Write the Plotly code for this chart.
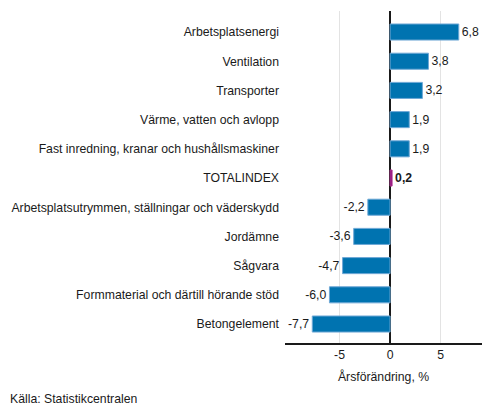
import plotly.graph_objects as go

categories = ["Arbetsplatsenergi", "Ventilation", "Transporter", "Värme, vatten och avlopp",
              "Fast inredning, kranar och hushållsmaskiner", "TOTALINDEX",
              "Arbetsplatsutrymmen, ställningar och väderskydd", "Jordämne", "Sågvara",
              "Formmaterial och därtill hörande stöd", "Betongelement"]
values = [6.8, 3.8, 3.2, 1.9, 1.9, 0.2, -2.2, -3.6, -4.7, -6.0, -7.7]
labels = ["6,8", "3,8", "3,2", "1,9", "1,9", "<b>0,2</b>", "-2,2", "-3,6", "-4,7", "-6,0", "-7,7"]
tick_vals = [-5, 0, 5]
tick_text = ["-5", "0", "5"]

blue = "#0073b0"
purple = "#8c0b7f"
colors = [purple if c == "TOTALINDEX" else blue for c in categories]
line_colors = ["#b0358f" if c == "TOTALINDEX" else "#6fa8d6" for c in categories]

FONT = "Arial, Liberation Sans, sans-serif"
FS = 12.25

fig = go.Figure(go.Bar(
    x=values, y=categories, orientation="h",
    marker=dict(color=colors, line=dict(color=line_colors, width=1)),
    width=0.55,
    text=labels, textposition="outside", cliponaxis=False,
    textfont=dict(size=FS, color="#1a1a1a", family=FONT),
))

fig.update_layout(
    width=493, height=416,
    margin=dict(l=285, r=11, t=11, b=73),
    plot_bgcolor="white", paper_bgcolor="white",
    font=dict(family=FONT, size=FS, color="#1a1a1a"),
    showlegend=False,
    xaxis=dict(range=[-10.4, 9.1], tickvals=tick_vals, ticktext=tick_text,
               showgrid=True, gridcolor="#e3e3e3", gridwidth=1,
               zeroline=True, zerolinecolor="#1a1a1a", zerolinewidth=1.5,
               showline=True, linecolor="#1a1a1a", linewidth=1.5,
               ticks="", tickfont=dict(size=FS), automargin=False,
               title=dict(text="Årsförändring, %", font=dict(size=FS), standoff=11)),
    yaxis=dict(autorange=False, range=[10.65, -0.72], showgrid=False, zeroline=False,
               showline=False, ticks="", ticklabelstandoff=5, tickfont=dict(size=FS),
               automargin=False),
    annotations=[dict(text="Källa: Statistikcentralen", xref="paper", yref="paper",
                      x=-277/197, y=-56/332, xanchor="left", yanchor="middle",
                      showarrow=False, font=dict(size=FS))],
)

fig.write_html("out.html", config={"displayModeBar": False},
               post_script="document.body.style.margin='0';")
